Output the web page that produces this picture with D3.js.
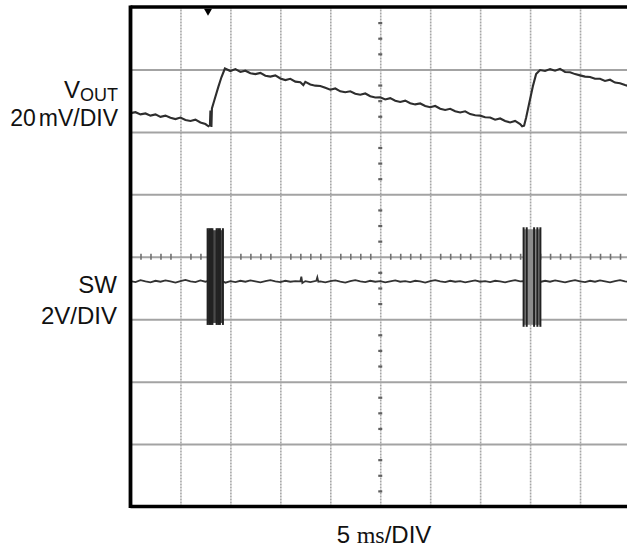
<!DOCTYPE html>
<html>
<head>
<meta charset="utf-8">
<script src="https://cdn.jsdelivr.net/npm/d3@7"></script>
<style>
  body { margin: 0; background: #fff; }
  svg { display: block; }
  text { font-family: "Liberation Sans", Arial, sans-serif; fill: #111; }
</style>
</head>
<body>
<svg id="scope"></svg>
<script>
// graticule: 10 x 5 ms horizontally, 8 divisions vertically
const gridTimes = [0, 5, 10, 15, 20, 25, 30, 35, 40, 45, 50];
const gridDivs = [-4, -3, -2, -1, 0, 1, 2, 3, 4];

// VOUT channel, mV relative to its reference (+2 div), 20 mV/DIV
const voutTime = [0, 0.5, 1, 1.5, 2, 2.5, 3, 3.5, 4, 4.5, 5, 5.5, 6, 6.5, 7, 7.5, 7.8, 7.95, 8.0, 8.1, 8.15,
  8.4, 8.8, 9.1, 9.45, 10, 10.5, 11, 11.5, 12, 12.5, 13, 13.5, 14, 14.5, 15, 15.5, 16, 16.5, 17, 17.3, 17.5,
  18, 18.5, 19, 19.5, 20, 20.5, 21, 21.5, 22, 22.5, 23, 23.5, 24, 24.5, 25, 25.5, 26, 26.5, 27, 27.5, 28,
  28.5, 29, 29.5, 30, 30.5, 31, 31.5, 32, 32.5, 33, 33.5, 34, 34.5, 35, 35.5, 36, 36.5, 37, 37.5, 38, 38.5,
  39, 39.2, 39.4, 39.6, 39.9, 40.3, 40.6, 40.8, 41.0, 41.5, 42, 42.5, 43, 43.5, 44, 44.5, 45, 45.5, 46,
  46.5, 47, 47.5, 48, 48.5, 49, 49.5, 50];
const voutMv = [6.0, 6.3, 5.6, 5.9, 5.2, 5.6, 4.8, 5.2, 4.5, 4.1, 4.6, 3.8, 3.5, 3.9, 3.0, 2.5, 1.8, 2.2, 6.8, 1.6, 7.5,
  10.2, 14.5, 17.5, 20.3, 19.5, 20.1, 19.2, 19.6, 18.8, 18.5, 18.9, 18.0, 17.7, 18.1, 17.1, 16.6, 17.0, 16.1, 15.9, 15.0, 16.0,
  15.2, 14.8, 14.7, 14.1, 13.5, 13.9, 13.0, 12.7, 13.0, 12.2, 11.9, 12.3, 11.4, 11.0, 11.1, 10.4, 10.8, 10.0, 9.6, 10.0, 9.2,
  8.8, 9.1, 8.3, 7.9, 8.3, 7.4, 7.0, 7.4, 6.6, 6.2, 6.6, 5.7, 5.3, 5.2, 4.7, 4.6, 3.9, 4.3, 3.5, 3.0, 3.5,
  2.5, 1.8, 2.0, 4.5, 9.0, 14.9, 18.5, 19.2, 19.8, 19.5, 20.1, 19.6, 20.2, 19.2, 19.1, 18.5, 18.1, 17.7, 17.6,
  17.0, 17.0, 16.3, 16.7, 15.8, 15.6, 15.0, 14.6];

// SW channel, volts above its ground (-1 div), 2 V/DIV
const swTime = [0, 0.5, 1, 1.5, 2, 2.5, 3, 3.5, 4, 4.5, 5, 5.5, 6, 6.5, 7, 7.5, 7.7,
  9.3, 9.5, 10, 10.5, 11, 11.5, 12, 12.5, 13, 13.5, 14, 14.5, 15, 15.5, 16, 16.5, 17, 17.1, 17.2, 17.5,
  18, 18.6, 18.7, 18.8, 19, 19.5, 20, 20.5, 21, 21.5, 22, 22.5, 23, 23.5, 24, 24.5, 25, 25.5, 26, 26.5,
  27, 27.5, 28, 28.5, 29, 29.5, 30, 30.5, 31, 31.5, 32, 32.5, 33, 33.5, 34, 34.5, 35, 35.5, 36, 36.5,
  37, 37.5, 38, 38.5, 39, 39.3,
  41.1, 41.5, 42, 42.5, 43, 43.5, 44, 44.5, 45, 45.5, 46, 46.5, 47, 47.5, 48, 48.5, 49, 49.5, 50];
const swVolts = [1.22, 1.19, 1.25, 1.21, 1.18, 1.23, 1.20, 1.24, 1.21, 1.17, 1.22, 1.26, 1.21, 1.19, 1.24, 1.20, 1.22,
  1.20, 1.17, 1.22, 1.19, 1.23, 1.20, 1.24, 1.21, 1.18, 1.22, 1.25, 1.21, 1.19, 1.23, 1.20, 1.22, 1.21, 1.36, 1.16, 1.22,
  1.19, 1.23, 1.34, 1.20, 1.21, 1.18, 1.22, 1.24, 1.20, 1.17, 1.22, 1.25, 1.21, 1.19, 1.23, 1.20, 1.22, 1.18, 1.21, 1.24,
  1.20, 1.22, 1.19, 1.23, 1.21, 1.17, 1.22, 1.25, 1.21, 1.19, 1.23, 1.20, 1.22, 1.18, 1.21, 1.24, 1.20, 1.22, 1.19, 1.23,
  1.21, 1.18, 1.22, 1.25, 1.21, 1.22,
  1.20, 1.23, 1.20, 1.24, 1.21, 1.18, 1.22, 1.25, 1.21, 1.19, 1.23, 1.20, 1.24, 1.21, 1.18, 1.22, 1.25, 1.21, 1.20];

// switching bursts on SW
const burstStart = [7.69, 39.32];
const burstEnd = [9.29, 41.06];
const burstHigh = [2.85, 2.88];
const burstLow = [-0.12, -0.18];
const burstFill = ['#4a4a4a', '#8c8c8c'];
const burstEdges = [[7.72, 7.88, 8.05, 8.2, 8.62, 8.78, 8.95, 9.25], [39.35, 39.66, 40.4, 40.73, 41.03]];

const triggerTime = 7.76;

const width = 627, height = 550;
const plot = { left: 130.5, right: 630, top: 7, bottom: 506.5 };

const svg = d3.select('#scope')
  .attr('width', width)
  .attr('height', height);

const x = d3.scaleLinear().domain([0, 50]).range([plot.left, plot.right]);
const y = d3.scaleLinear().domain([-4, 4]).range([plot.bottom, plot.top]);
const yVout = mv => y(2 + mv / 20);
const ySw = v => y(-1 + v / 2);

// grid
svg.append('g')
  .attr('transform', `translate(0,${plot.bottom})`)
  .call(d3.axisBottom(x).tickValues(gridTimes.slice(1)).tickSize(-(plot.bottom - plot.top)).tickFormat(''))
  .call(g => g.select('.domain').remove())
  .call(g => g.selectAll('line').attr('stroke', '#a6a6a6').attr('stroke-width', 1.6).attr('stroke-dasharray', '2,1'));

svg.append('g')
  .attr('transform', `translate(${plot.left},0)`)
  .call(d3.axisRight(y).tickValues(gridDivs.slice(1, -1)).tickSize(plot.right - plot.left).tickFormat(''))
  .call(g => g.select('.domain').remove())
  .call(g => g.selectAll('line').attr('stroke', '#a3a3a3').attr('stroke-width', 2));

// center axes minor ticks
const minorTimes = d3.range(1, 50).filter(t => t % 5 !== 0);
const minorDivs = d3.range(-3.75, 4, 0.25).filter(d => d % 1 !== 0);

svg.append('g')
  .attr('transform', `translate(0,${y(0) - 3})`)
  .call(d3.axisBottom(x).tickValues(minorTimes).tickSize(6).tickFormat(''))
  .call(g => g.select('.domain').remove())
  .call(g => g.selectAll('line').attr('stroke', '#707070').attr('stroke-width', 1.6));

svg.append('g')
  .attr('transform', `translate(${x(25) + 2},0)`)
  .call(d3.axisLeft(y).tickValues(minorDivs).tickSize(4).tickFormat(''))
  .call(g => g.select('.domain').remove())
  .call(g => g.selectAll('line').attr('stroke', '#606060').attr('stroke-width', 2.2));

// SW trace
const swData = swTime.map((t, i) => ({ t, v: swVolts[i] }));
svg.append('path')
  .datum(swData)
  .attr('fill', 'none')
  .attr('stroke', '#333')
  .attr('stroke-width', 1.8)
  .attr('d', d3.line().x(d => x(d.t)).y(d => ySw(d.v)));

// bursts
burstStart.forEach((t0, i) => {
  svg.append('rect')
    .attr('x', x(t0))
    .attr('y', ySw(burstHigh[i]))
    .attr('width', x(burstEnd[i]) - x(t0))
    .attr('height', ySw(burstLow[i]) - ySw(burstHigh[i]))
    .attr('fill', burstFill[i]);
  svg.selectAll(null)
    .data(burstEdges[i])
    .enter().append('line')
    .attr('x1', d => x(d)).attr('x2', d => x(d))
    .attr('y1', ySw(burstHigh[i]) - 2)
    .attr('y2', ySw(burstLow[i]) + 2)
    .attr('stroke', '#222')
    .attr('stroke-width', 2);
});

// VOUT trace
const voutData = voutTime.map((t, i) => ({ t, v: voutMv[i] }));
svg.append('path')
  .datum(voutData)
  .attr('fill', 'none')
  .attr('stroke', '#2e2e2e')
  .attr('stroke-width', 2.1)
  .attr('d', d3.line().x(d => x(d.t)).y(d => yVout(d.v)));

// frame
svg.append('line').attr('x1', plot.left).attr('x2', plot.left).attr('y1', plot.top - 1.5).attr('y2', plot.bottom + 1.5)
  .attr('stroke', '#000').attr('stroke-width', 3.8);
svg.append('line').attr('x1', plot.left).attr('x2', width).attr('y1', plot.top).attr('y2', plot.top)
  .attr('stroke', '#000').attr('stroke-width', 3.5);
svg.append('line').attr('x1', plot.left).attr('x2', width).attr('y1', plot.bottom).attr('y2', plot.bottom)
  .attr('stroke', '#000').attr('stroke-width', 3.5);

// trigger marker
svg.append('path')
  .attr('d', d3.symbol(d3.symbolTriangle, 28)())
  .attr('transform', `translate(${x(triggerTime)},${plot.top + 4}) rotate(180)`)
  .attr('fill', '#000');

// labels
const vLabel = svg.append('text').attr('x', 118).attr('y', 98).attr('text-anchor', 'end').attr('font-size', 24);
vLabel.append('tspan').text('V');
vLabel.append('tspan').attr('font-size', 18).attr('dy', 3).text('OUT');
const vDiv = svg.append('text').attr('x', 118).attr('y', 126).attr('text-anchor', 'end').attr('font-size', 23);
vDiv.append('tspan').text('20');
vDiv.append('tspan').attr('dx', 3).text('mV/DIV');

svg.append('text').attr('x', 117).attr('y', 293).attr('text-anchor', 'end').attr('font-size', 24).text('SW');
svg.append('text').attr('x', 117).attr('y', 324).attr('text-anchor', 'end').attr('font-size', 24).text('2V/DIV');

const xLabel = svg.append('text').attr('x', 384).attr('y', 543).attr('text-anchor', 'middle').attr('font-size', 24);
xLabel.append('tspan').text('5 ');
xLabel.append('tspan').attr('font-family', '"Liberation Serif", serif').text('ms');
xLabel.append('tspan').text('/DIV');
</script>
</body>
</html>
